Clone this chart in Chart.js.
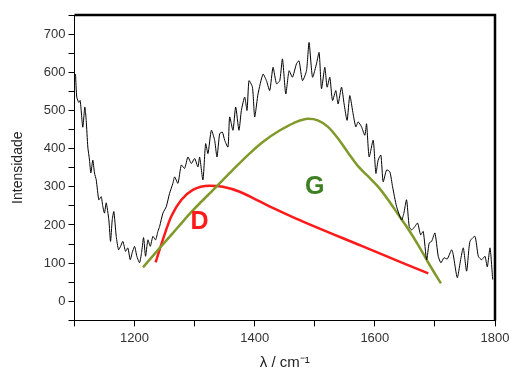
<!DOCTYPE html>
<html>
<head>
<meta charset="utf-8">
<script src="https://cdn.jsdelivr.net/npm/chart.js@4"></script>
<style>
  html, body { margin: 0; padding: 0; background: #fff; }
  #wrap { width: 509px; height: 372px; }
</style>
</head>
<body>
<div id="wrap"><canvas id="grafico"></canvas></div>
<script>
// espectro Raman (preto)
var ondaX = [1101.7,1103.8,1107.2,1109.5,1113.8,1117.2,1119.5,1122.2,1125,1127.2,1130.5,1133.3,1136.2,1140.5,1144.5,1147.2,1150,1152.8,1157.2,1160,1162.8,1165.5,1169.5,1173.3,1176.7,1180.5,1185,1188.8,1192.8,1196.2,1200,1203.8,1208.3,1211.7,1215,1218.3,1222.2,1226.2,1230.5,1235,1238.8,1241.7,1247.2,1252.8,1258.3,1263.8,1266.7,1272.2,1277.8,1283.3,1288.8,1294.5,1300,1305.5,1308.3,1313.8,1318.3,1322.2,1327.8,1333.3,1337.2,1341.7,1346.2,1350,1355.5,1358.3,1363.8,1368.3,1373.8,1377.8,1383.3,1387.2,1390.5,1396.2,1400,1405.5,1413.8,1419.5,1425,1430.5,1436.2,1441.7,1446.2,1451.7,1457.2,1462.8,1469.5,1473.8,1479.5,1486.2,1490.5,1496.2,1502.8,1507.2,1511.2,1516.7,1520.5,1525,1529.5,1535,1538.8,1544.5,1548.8,1553.8,1558.3,1563.8,1568.3,1572.2,1577.8,1583.3,1586.2,1590.5,1597.2,1601.7,1605.5,1610,1613.8,1619.5,1625,1629.5,1636.2,1644.5,1648.3,1652.8,1657.2,1661.2,1666.7,1671.2,1676.2,1680.5,1686.2,1690.5,1694.5,1700,1705.5,1710,1715,1720.5,1727.8,1730.5,1737.2,1742.8,1747.2,1752.8,1758.3,1766.7,1772.2,1777.8,1783.3,1787.2,1791.7,1796.2];
var intensidade = [595,535,521,526,456,509,474,404,370,336,370,336,318,266,274,248,231,258,213,157,213,235,170,135,144,157,131,140,109,128,144,118,101,128,167,118,161,144,170,161,183,196,231,248,283,309,326,309,357,348,378,361,374,352,378,318,413,387,448,422,378,439,443,422,404,483,448,509,448,500,535,500,578,561,483,543,595,578,552,613,570,578,635,543,604,587,622,630,578,604,678,587,622,652,557,613,561,587,526,552,517,561,517,474,539,491,457,470,457,435,465,378,422,335,370,383,313,344,339,300,248,213,231,266,196,187,196,205,174,183,109,153,157,179,118,101,114,111,135,122,62,109,140,79,157,170,118,109,118,90,140,57];

// banda D (vermelho)
var bandaDX = [1235,1247,1261,1278,1297,1325,1347,1375,1403,1431,1467,1578,1689];
var bandaDY = [102,161,222,266,292,303,300,287,266,244,218,145,73];

// banda G (verde)
var bandaGX = [1214,1242,1270,1297,1336,1364,1390,1414,1440,1465,1489,1505,1522,1539,1556,1572,1589,1606,1622,1639,1656,1672,1689,1710];
var bandaGY = [89,140,190,238,300,345,385,418,446,467,478,474,457,426,388,354,327,299,266,227,188,148,101,47];

// rótulos das bandas
var rotulos = [
    { texto: 'D', x: 1308, y: 208, cor: '#ff1a1a' },
    { texto: 'G', x: 1500, y: 300, cor: '#3f7f24' }
];

var eixoX = { min: 1100, max: 1800, passo: 100, rotuloCada: 200 };
var eixoY = { min: -50, max: 750, passo: 50, rotuloCada: 100 };

function pares(xs, ys) {
    var out = [];
    for (var i = 0; i < xs.length; i++) {
        out.push({ x: xs[i], y: ys[i] });
    }
    return out;
}

var molduraPlugin = {
    id: 'moldura',
    afterDatasetsDraw: function (chart) {
        var c = chart.ctx, a = chart.chartArea;
        c.save();
        c.strokeStyle = '#000';
        c.lineWidth = 2.5;
        c.beginPath();
        c.moveTo(a.left, a.top);
        c.lineTo(a.right, a.top);
        c.lineTo(a.right, a.bottom);
        c.stroke();
        // letras D e G
        c.font = 'bold 25px "Liberation Sans", Arial, sans-serif';
        c.textAlign = 'center';
        c.textBaseline = 'middle';
        rotulos.forEach(function (r) {
            c.fillStyle = r.cor;
            c.fillText(r.texto, chart.scales.x.getPixelForValue(r.x), chart.scales.y.getPixelForValue(r.y));
        });
        c.restore();
    }
};

var fonteTick = { family: '"Liberation Sans", Arial, sans-serif', size: 13 };

var config = {
    type: 'line',
    data: {
        datasets: [{
            data: pares(ondaX, intensidade),
            borderColor: '#000',
            borderWidth: 1,
            pointRadius: 0,
            tension: 0.2
        }, {
            data: pares(bandaGX, bandaGY),
            borderColor: '#7f9a2a',
            borderWidth: 2.5,
            pointRadius: 0,
            cubicInterpolationMode: 'monotone'
        }, {
            data: pares(bandaDX, bandaDY),
            borderColor: '#ff1a1a',
            borderWidth: 2.5,
            pointRadius: 0,
            cubicInterpolationMode: 'monotone'
        }]
    },
    options: {
        responsive: true,
        maintainAspectRatio: false,
        animation: false,
        layout: { padding: { top: 15, right: 0, left: 10, bottom: 0 } },
        plugins: {
            legend: { display: false },
            tooltip: { enabled: false }
        },
        scales: {
            x: {
                type: 'linear',
                min: eixoX.min,
                max: eixoX.max,
                afterFit: function (s) { s.paddingRight = 14; },
                border: { color: '#000', width: 1 },
                grid: { drawOnChartArea: false, color: '#000', tickLength: 6 },
                ticks: {
                    stepSize: eixoX.passo,
                    color: '#333',
                    font: fonteTick,
                    padding: 4,
                    maxRotation: 0,
                    autoSkip: false,
                    callback: function (v) { return v % eixoX.rotuloCada === 0 && v !== eixoX.min ? v : ''; }
                },
                title: {
                    display: true,
                    text: 'λ / cm⁻¹',
                    color: '#222',
                    font: { family: '"Liberation Sans", Arial, sans-serif', size: 15 },
                    padding: { top: 4, bottom: 0 }
                }
            },
            y: {
                min: eixoY.min,
                max: eixoY.max,
                border: { color: '#000', width: 1 },
                grid: { drawOnChartArea: false, color: '#000', tickLength: 6 },
                ticks: {
                    stepSize: eixoY.passo,
                    color: '#333',
                    font: fonteTick,
                    padding: 3,
                    autoSkip: false,
                    callback: function (v) { return v % eixoY.rotuloCada === 0 ? v : ''; }
                },
                title: {
                    display: true,
                    text: 'Intensidade',
                    color: '#222',
                    font: { family: '"Liberation Sans", Arial, sans-serif', size: 14 },
                    padding: { top: 0, bottom: 14 }
                }
            }
        }
    },
    plugins: [molduraPlugin]
};

var grafico = new Chart(document.getElementById('grafico').getContext('2d'), config);
</script>
</body>
</html>
